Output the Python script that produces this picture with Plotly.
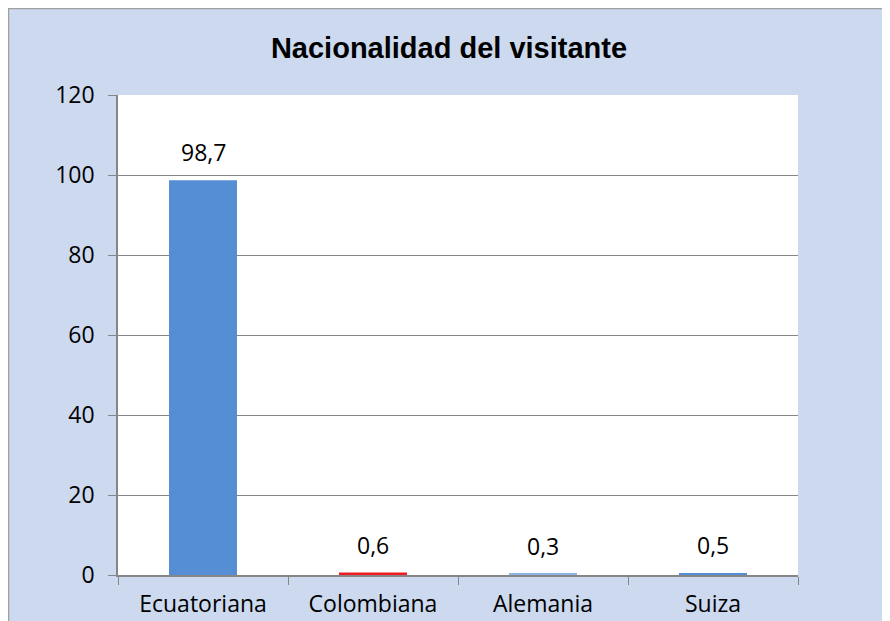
import plotly.graph_objects as go

categories = ["Ecuatoriana", "Colombiana", "Alemania", "Suiza"]
values = [98.7, 0.6, 0.3, 0.5]
labels = ["98,7", "0,6", "0,3", "0,5"]
colors = ["#558ed5", "#ee1c25", "#8eb4e3", "#558ed5"]
y_ticks = [0, 20, 40, 60, 80, 100, 120]

W, H = 882, 613
L, R, T, B = 110, 92, 87, 46

fig = go.Figure(go.Bar(
    x=categories, y=values,
    marker=dict(color=colors, line=dict(width=0)),
    width=0.4,
))

for c, v, t in zip(categories, values, labels):
    fig.add_annotation(x=c, y=v, text=t, showarrow=False, yanchor="bottom",
                       yshift=10, font=dict(family="Open Sans", size=23, color="#000"))

fig.update_layout(
    width=W, height=H,
    margin=dict(l=L, r=R, t=T, b=B),
    paper_bgcolor="#ccd9ef", plot_bgcolor="#ffffff",
    title=dict(text="<b>Nacionalidad del visitante</b>", x=(449 - 8) / W, xanchor="center",
               y=1 - 40 / H, yanchor="middle",
               font=dict(family="Liberation Sans", size=29, color="#000")),
    showlegend=False,
)
fig.update_yaxes(range=[0, 120], tickvals=y_ticks, ticks="outside", ticklen=8,
                 ticklabelstandoff=9, automargin=False,
                 tickcolor="#868686", showline=True, linecolor="#868686", linewidth=1.5,
                 gridcolor="#868686", gridwidth=1, zeroline=False,
                 tickfont=dict(family="Open Sans", size=23, color="#000"))
fig.update_xaxes(ticks="outside", tickson="boundaries", ticklen=8,
                 ticklabelstandoff=8, automargin=False,
                 tickcolor="#868686", showline=True, linecolor="#868686", linewidth=1.5,
                 tickfont=dict(family="Open Sans", size=23, color="#000"))
pw = W - L - R
ph = H - T - B
fig.add_shape(type="rect", xref="paper", yref="paper",
              x0=-L / pw + 0.5 / pw, x1=1 + (R + 20) / pw,
              y0=-(B + 20) / ph, y1=1 + T / ph - 0.5 / ph,
              line=dict(color="#a0a0a0", width=1.5), layer="below")
fig.write_html("out.html")
